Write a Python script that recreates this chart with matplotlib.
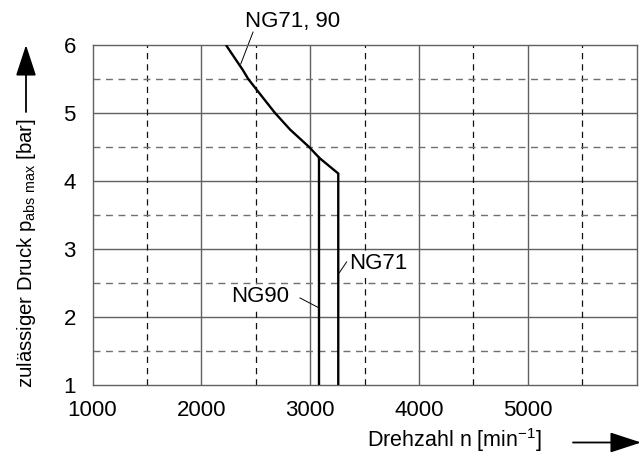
import matplotlib
matplotlib.use("Agg")
import matplotlib.pyplot as plt

plt.rcParams['font.family'] = ['Liberation Sans', 'DejaVu Sans']
plt.rcParams['mathtext.fontset'] = 'custom'
plt.rcParams['mathtext.rm'] = 'Liberation Sans'

# Data
common_n = [2226, 2380, 2431, 2532, 2677, 2815, 2992, 3084]
common_p = [6.0, 5.635, 5.5, 5.294, 5.0, 4.757, 4.497, 4.34]
ng71_n = [3084, 3258, 3258]
ng71_p = [4.34, 4.11, 1.0]
ng90_n = [3084, 3084]
ng90_p = [4.34, 1.0]

x_ticks = [1000, 2000, 3000, 4000, 5000]
y_ticks = [1, 2, 3, 4, 5, 6]
x_minor = [1500, 2500, 3500, 4500, 5500]
y_minor = [1.5, 2.5, 3.5, 4.5, 5.5]

W, H = 644, 454
fig = plt.figure(figsize=(W / 100, H / 100), dpi=100)
ax = fig.add_axes([92.5 / W, 1 - 385 / H, (636.7 - 92.5) / W, (385 - 45) / H])
ax.set_xlim(1000, 6000)
ax.set_ylim(1, 6)

grid_col = '#606060'
for v in x_ticks[1:]:
    ax.axvline(v, color=grid_col, lw=1.0, zorder=1)
for v in y_ticks[1:-1]:
    ax.axhline(v, color=grid_col, lw=1.0, zorder=1)
for v in x_minor:
    ax.axvline(v, color='#111111', lw=0.9, ls=(0, (5, 4)), zorder=1)
for v in y_minor:
    ax.axhline(v, color='#707070', lw=1.0, ls=(0, (5, 4)), zorder=1)

for s in ax.spines.values():
    s.set_color(grid_col)
    s.set_linewidth(1.0)

lw = 1.7
ax.plot(common_n, common_p, color='black', lw=lw, zorder=3,
        solid_joinstyle='round', solid_capstyle='butt')
ax.plot(ng71_n, ng71_p, color='black', lw=lw, zorder=3, solid_joinstyle='miter')
ax.plot(ng90_n, ng90_p, color='black', lw=lw, zorder=3)

fs = 16
ax.set_xticks(x_ticks)
ax.set_yticks(y_ticks)
ax.tick_params(length=0, labelsize=fs, colors='black')
ax.tick_params(axis='x', pad=11)
ax.tick_params(axis='y', pad=12)

# Labels with leader lines
ax.text(2401, 6.34, 'NG71, 90', fontsize=fs, ha='left', va='center', clip_on=False)
ax.plot([2475, 2362], [6.19, 5.72], color='black', lw=0.7, clip_on=False)
ax.text(3359, 2.78, 'NG71', fontsize=fs, ha='left', va='center',
        bbox=dict(facecolor='white', edgecolor='none', pad=0.5))
ax.plot([3335, 3267], [2.81, 2.65], color='black', lw=0.7)
ax.text(2808, 2.30, 'NG90', fontsize=fs, ha='right', va='center',
        bbox=dict(facecolor='white', edgecolor='none', pad=0.5))
ax.plot([2906, 3074], [2.28, 2.14], color='black', lw=0.7)

# Axis titles
fig.text(455 / W, 1 - 447 / H, r'Drehzahl n [min$^{\mathregular{-1}}$]', fontsize=15.5,
         ha='center', va='baseline')
fig.text(27 / W, 1 - 253 / H, r'zulässiger Druck p$_{\mathregular{abs\ max}}$ [bar]',
         fontsize=14.7, ha='center', va='center', rotation=90)

# Arrows
astyle = dict(arrowstyle='-|>,head_length=0.55,head_width=0.18', mutation_scale=35,
              lw=1.3, color='black', shrinkA=0, shrinkB=0)
ax.annotate('', xy=(641 / W, 1 - 442.5 / H), xytext=(573 / W, 1 - 442.5 / H),
            xycoords='figure fraction', textcoords='figure fraction', arrowprops=astyle,
            annotation_clip=False)
ax.annotate('', xy=(26 / W, 1 - 45 / H), xytext=(26 / W, 1 - 112 / H),
            xycoords='figure fraction', textcoords='figure fraction', arrowprops=astyle,
            annotation_clip=False)

fig.savefig('out.png', dpi=100)
